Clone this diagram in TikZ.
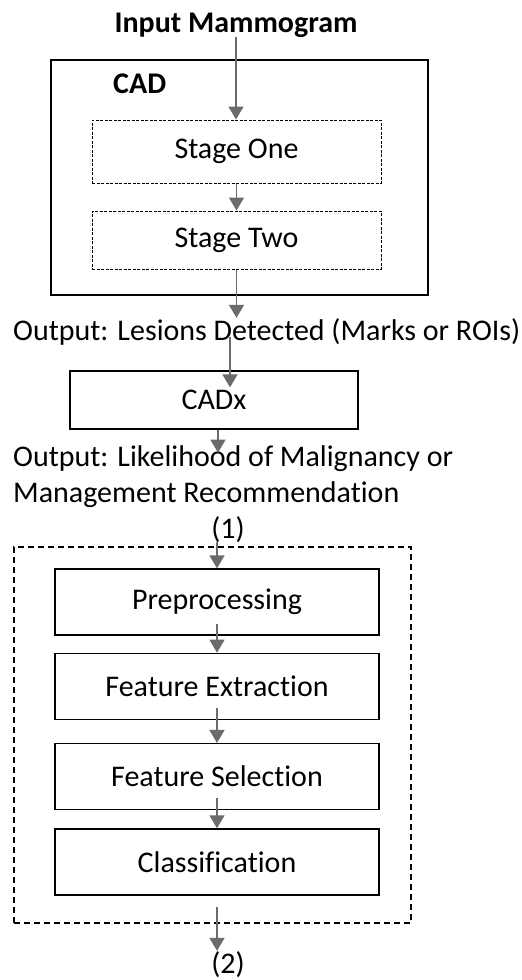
\documentclass[tikz,border=0pt]{standalone}
\usepackage{fontspec}
\setmainfont[Ligatures=NoCommon]{Carlito}
\usetikzlibrary{positioning,arrows.meta}

\begin{document}
\begin{tikzpicture}[x=1pt,y=-1pt,node distance=17pt,
  every node/.style={font=\fontsize{30}{36}\selectfont,inner sep=0pt},
  heading/.style={font=\fontsize{30}{36}\selectfont\bfseries},
  >={Triangle[width=15pt,length=13pt]},
  box/.style={draw=black,line width=1.3pt,minimum width=324pt,minimum height=66pt},
  stagebox/.style={draw=black,line width=1pt,dash pattern=on 3pt off 1.5pt,minimum width=289pt},
  frame/.style={draw=black,line width=1.3pt},
  flow/.style={->,line width=1.5pt,draw=black!58}]
\useasboundingbox (0,0) rectangle (522,980);
\node[heading,anchor=base] (input) at (236,32) {Input Mammogram};
\node[frame,minimum width=377pt,minimum height=235pt] (cad) at (239.5,177.5) {};
\node[heading,anchor=base west] (cadtitle) at (113,93) {CAD};
\node[stagebox,minimum height=63pt] (stage1) at (236.5,151.5) {Stage One};
\draw[flow] (input.south) -- (input.south |- stage1.north);
\node[stagebox,minimum height=58pt,below=27pt of stage1] (stage2) {Stage Two};
\draw[flow] (stage1) -- (stage2);
\node[anchor=base west] (lesions) at (13,340) {Output: Lesions Detected (Marks or ROIs)};
\draw[flow] (stage2.south) -- (stage2.south |- lesions.north);
\node[box,minimum width=288pt,minimum height=58pt] (cadx) at (214,400) {CADx};
\coordinate (lesionsdrop) at (230,337);
\draw[flow] (lesionsdrop) -- (lesionsdrop |- cadx.north) -- ++(0,17);
\node[anchor=base west,align=left] (likely) at (13,502) {Output: Likelihood of Malignancy or\\Management Recommendation};
\draw[flow] ([xshift=4pt]cadx.south) -- ++(0,23);
\node[anchor=base] (one) at (228,538) {(1)};
\node[frame,dash pattern=on 6pt off 4pt,minimum width=397pt,minimum height=376pt] (pipeline) at (212.5,735) {};
\node[box] (pre) at (217,602) {Preprocessing};
\draw[flow] (one.south -| pre.north) -- (pre.north);
\node[box,below=of pre] (ext) {Feature Extraction};
\draw[flow] ([yshift=12pt]pre.south) -- (ext.north);
\node[box,below=23pt of ext] (sel) {Feature Selection};
\draw[flow] ([yshift=12pt]ext.south) -- (sel.north);
\node[box,below=18pt of sel] (cls) {Classification};
\draw[flow] ([yshift=12pt]sel.south) -- (cls.north);
\node[anchor=base] (two) at (228,973) {(2)};
\draw[flow] ([yshift=-11pt]cls.south) -- (cls.south |- two.north);
\end{tikzpicture}
\end{document}
